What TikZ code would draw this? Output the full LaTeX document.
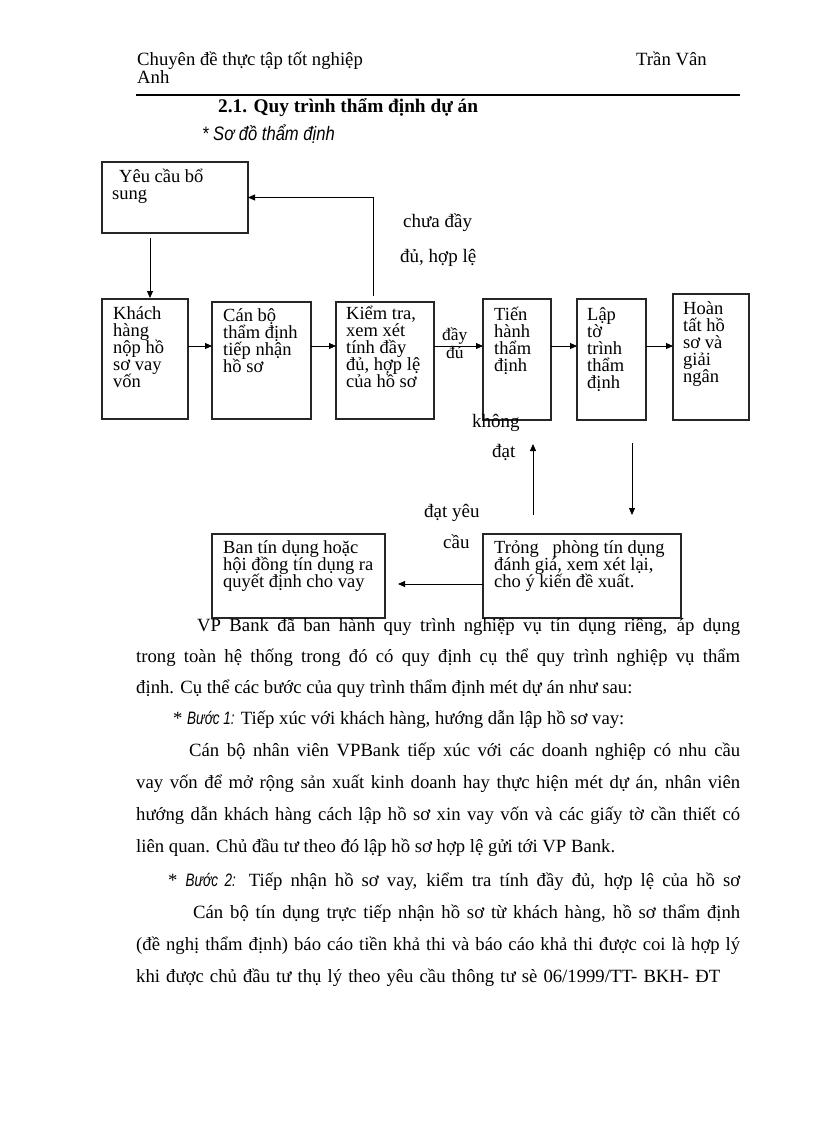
\documentclass[tikz,border=0pt]{standalone}
\usepackage{fontspec}
\setmainfont{Liberation Serif}
\newfontfamily\arialf{Liberation Sans}[FakeStretch=0.85]
\newfontfamily\arialn{Liberation Sans}[FakeStretch=0.75]
\usetikzlibrary{arrows.meta}
\newcommand\mkbox[5]{\node[box, minimum width={#4-#2}, minimum height={#5-#3}] (#1) at (#2,#3) {};}
\newcommand\jline[4]{\node[body] (#1) at (#2,#3) {\makebox[\dimexpr740pt-#2pt\relax][s]{#4}};}
\newcommand\nline[4]{\node[body] (#1) at (#2,#3) {#4};}
\newcommand\ai[1]{{\arialn\itshape\fontsize{18}{20}\selectfont #1}}
\newcommand\tightls{\lineskiplimit=-100pt\relax}
\begin{document}
\begin{tikzpicture}[x=1pt,y=-1pt,
  box/.style={draw=black!85, line width=1.1pt, inner sep=0pt, outer sep=0pt, anchor=north west},
  btxt/.style={anchor=base west, inner sep=0pt, align=left, font=\fontsize{18.5}{16.8}\selectfont\tightls},
  lbl/.style={anchor=base west, inner sep=0pt, font=\fontsize{19}{22}\selectfont},
  body/.style={anchor=base west, inner sep=0pt, font=\fontsize{18.7}{22}\selectfont},
  arr/.style={line width=0.8pt, -{Triangle[length=7pt,width=6pt]}},
]
\fill[white] (0,0) rectangle (816,1123);
\useasboundingbox (0,0) rectangle (816,1123);
% header
\node[body] (h1) at (137,66) {Chuyên đề thực tập tốt nghiệp};
\node[body] (h2) at (636,66) {Trần Vân};
\node[body] (h3) at (137,84) {Anh};
\draw[line width=2pt] (136,95) -- (740,95);
\node[body, font=\bfseries\fontsize{19.3}{22}\selectfont] (title) at (218,113) {2.1. Quy trình thẩm định dự án};
\node[body] (sub) at (202,141) {{\arialf\itshape\fontsize{19.5}{22}\selectfont * Sơ đồ thẩm định}};
% boxes
\mkbox{yeu}{102}{162}{248}{233}
\mkbox{khach}{102}{299}{188}{419}
\mkbox{can}{212}{302}{311}{419}
\mkbox{kiem}{336}{302}{434}{419}
\mkbox{tien}{483}{299}{551}{420}
\mkbox{lap}{577}{299}{646}{420}
\mkbox{hoan}{673}{294}{749}{420}
\mkbox{ban}{212}{534}{385}{618}
\mkbox{truong}{483}{534}{681}{618}
% box texts (anchor = baseline of last line)
\node[btxt] (tyeu) at (119,183) {Yêu cầu bổ};
\node[btxt] (tyeu2) at (112,200) {sung};
\node[btxt] (tkhach) at (113,387) {Khách\\hàng\\nộp hồ\\sơ vay\\vốn};
\node[btxt] (tcan) at (223,372) {Cán bộ\\thẩm định\\tiếp nhận\\hồ sơ};
\node[btxt] (tkiem) at (346,387) {Kiểm tra,\\xem xét\\tính đầy\\đủ, hợp lệ\\của hồ sơ};
\node[btxt] (ttien) at (494,371) {Tiến\\hành\\thẩm\\định};
\node[btxt] (tlap) at (587,388) {Lập\\tờ\\trình\\thẩm\\định};
\node[btxt] (thoan) at (683,382) {Hoàn\\tất hồ\\sơ và\\giải\\ngân};
\node[btxt] (tban) at (223,587) {Ban tín dụng hoặc\\hội đồng tín dụng ra\\quyết định cho vay};
\node[btxt] (ttruong) at (494,587) {Trỏng\ \ \ phòng tín dụng\\đánh giá, xem xét lại,\\cho ý kiến đề xuất.};
% labels
\node[btxt, font=\fontsize{17.5}{17}\selectfont] (l3) at (442,340) {đầy};
\node[btxt, font=\fontsize{17.5}{17}\selectfont] (l4) at (446,358) {đủ};
\node[lbl] (l1) at (403,228) {chưa đầy};
\node[lbl] (l2) at (400,262) {đủ, hợp lệ};
\node[lbl] (l5) at (472,427) {không};
\node[lbl] (l6) at (492,457) {đạt};
\node[lbl] (l7) at (424,517) {đạt yêu};
\node[lbl] (l8) at (443,548) {cầu};
% helper coordinates
\coordinate (cA) at (150,0);
\coordinate (cFb) at (373,0);
\coordinate (cUp) at (533,0);
\coordinate (cDn) at (632,0);
\coordinate (rMid) at (0,346);
\coordinate (rLow) at (0,584);
% connectors
\draw[arr, shorten <=5pt, shorten >=1pt] (yeu.south -| cA) -- (khach.north -| cA);
\draw[arr] (khach.east |- rMid) -- (can.west |- rMid);
\draw[arr] (can.east |- rMid) -- (kiem.west |- rMid);
\draw[arr] (kiem.east |- rMid) -- (tien.west |- rMid);
\draw[arr] (tien.east |- rMid) -- (lap.west |- rMid);
\draw[arr] (lap.east |- rMid) -- (hoan.west |- rMid);
\draw[arr, shorten <=6pt] (kiem.north -| cFb) |- (yeu.east);
\draw[arr, shorten <=19pt, shorten >=24pt] (truong.north -| cUp) -- (tien.south -| cUp);
\draw[arr, shorten <=23pt, shorten >=19pt] (lap.south -| cDn) -- (truong.north -| cDn);
\draw[arr, shorten >=13pt] (truong.west |- rLow) -- (ban.east |- rLow);
% body text
\jline{b1}{197}{631}{VP Bank đã ban hành quy trình nghiệp vụ tín dụng riêng, áp dụng}
\jline{b2}{136}{662}{trong toàn hệ thống trong đó có quy định cụ thể quy trình nghiệp vụ thẩm}
\nline{b3}{136}{693}{định. Cụ thể các bước của quy trình thẩm định mét dự án như sau:}
\nline{b4}{173}{724}{* \ai{Bước 1:} Tiếp xúc với khách hàng, hướng dẫn lập hồ sơ vay:}
\jline{b5}{189}{756}{Cán bộ nhân viên VPBank tiếp xúc với các doanh nghiệp có nhu cầu}
\jline{b6}{136}{788}{vay vốn để mở rộng sản xuất kinh doanh hay thực hiện mét dự án, nhân viên}
\jline{b7}{136}{820}{hướng dẫn khách hàng cách lập hồ sơ xin vay vốn và các giấy tờ cần thiết có}
\nline{b8}{136}{852}{liên quan. Chủ đầu tư theo đó lập hồ sơ hợp lệ gửi tới VP Bank.}
\jline{b9}{168}{886}{* \ai{Bước 2:} Tiếp nhận hồ sơ vay, kiểm tra tính đầy đủ, hợp lệ của hồ sơ}
\jline{b10}{193}{918}{Cán bộ tín dụng trực tiếp nhận hồ sơ từ khách hàng, hồ sơ thẩm định}
\jline{b11}{136}{950}{(đề nghị thẩm định) báo cáo tiền khả thi và báo cáo khả thi được coi là hợp lý}
\node[body] (b12) at (136,982) {\makebox[584pt][s]{khi được chủ đầu tư thụ lý theo yêu cầu thông tư sè 06/1999/TT- BKH- ĐT}};
\end{tikzpicture}
\end{document}
